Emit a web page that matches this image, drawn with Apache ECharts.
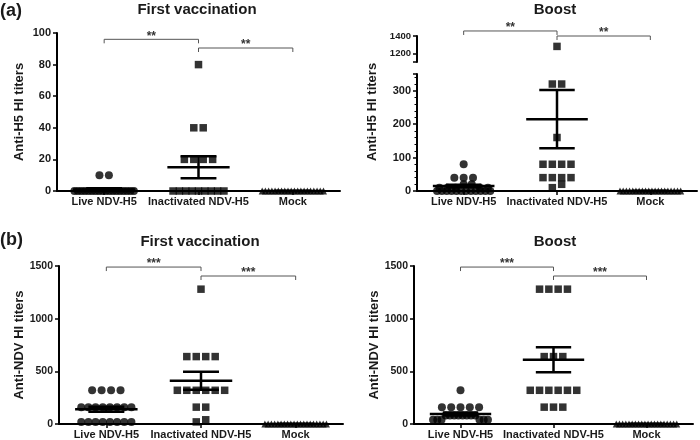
<!DOCTYPE html>
<html>
<head>
<meta charset="utf-8">
<script src="https://cdn.jsdelivr.net/npm/echarts@6/dist/echarts.min.js"></script>
<style>
  html, body { margin: 0; padding: 0; background: #fff; }
  #chart { width: 700px; height: 440px; }
</style>
</head>
<body>
<div id="chart"></div>
<script>
const groups = ['Live NDV-H5', 'Inactivated NDV-H5', 'Mock'];

// HI titers per bird
const h5FirstLive  = [10, 10, 0, 0, 0, 0, 0, 0, 0, 0, 0, 0, 0, 0, 0, 0, 0, 0, 0, 0];
const h5FirstInact = [80, 40, 40, 20, 20, 20, 20, 0, 0, 0, 0, 0, 0, 0, 0, 0];
const h5FirstMock  = [0, 0, 0, 0, 0, 0, 0, 0, 0, 0, 0, 0, 0, 0, 0, 0, 0, 0, 0, 0];

const h5BoostLive  = [80, 40, 40, 40, 20, 20, 10, 10, 10, 10, 10, 0, 0, 0, 0, 0, 0, 0, 0, 0, 0, 0, 0];
const h5BoostInact = [1280, 320, 320, 160, 80, 80, 80, 80, 40, 40, 40, 40, 20, 10];
const h5BoostMock  = [0, 0, 0, 0, 0, 0, 0, 0, 0, 0, 0, 0, 0, 0, 0, 0, 0, 0, 0, 0];

const ndvFirstLive  = [320, 320, 320, 320, 160, 160, 160, 160, 160, 160, 160, 160, 20, 20, 20, 20, 20, 20, 20, 20];
const ndvFirstInact = [1280, 640, 640, 640, 640, 320, 320, 320, 320, 320, 320, 160, 160, 40, 20];
const ndvFirstMock  = [0, 0, 0, 0, 0, 0, 0, 0, 0, 0, 0, 0, 0, 0, 0, 0, 0, 0, 0, 0];

const ndvBoostLive  = [320, 160, 160, 160, 160, 160, 80, 80, 80, 80, 80, 80, 80, 80, 40, 40, 40, 40, 40, 40];
const ndvBoostInact = [1280, 1280, 1280, 1280, 640, 640, 640, 320, 320, 320, 320, 320, 320, 160, 160, 160];
const ndvBoostMock  = [0, 0, 0, 0, 0, 0, 0, 0, 0, 0, 0, 0, 0, 0, 0, 0, 0, 0, 0, 0];

// mean and SEM bars as drawn
const h5FirstMean  = [1, 15, 0];
const h5FirstSem   = [0.7, 7, 0];
const h5BoostMean  = [15, 215, 0];
const h5BoostSem   = [4, 87, 0];
const ndvFirstMean = [140, 411, 0];
const ndvFirstSem  = [23, 86, 0];
const ndvBoostMean = [95, 610, 0];
const ndvBoostSem  = [15, 118, 0];

// significance brackets: from group, to group, height, label
const h5FirstBrackets  = [[1, 2, 96, '**'], [2, 3, 90.5, '**']];
const h5BoostBrackets  = [[1, 2, 1458, '**'], [2, 3, 1400, '**']];
const ndvFirstBrackets = [[1, 2, 1490, '***'], [2, 3, 1405, '***']];
const ndvBoostBrackets = [[1, 2, 1490, '***'], [2, 3, 1405, '***']];

// tick values
const h5FirstTicks  = [0, 20, 40, 60, 80, 100];
const h5LowTicks    = [0, 100, 200, 300];
const h5LowMinor    = [20, 40, 60, 80, 120, 140, 160, 180, 220, 240, 260, 280, 320, 340];
const h5HighTicks   = [1200, 1400];
const ndvTicks      = [0, 500, 1000, 1500];

const FONT = '"Liberation Sans", Arial, sans-serif';
const INK = '#1a1a1a';
const shapes = ['circle', 'rect', 'triangle'];
const sizes = [8, 7.5, 7];

// grids: a-first, a-boost lower, a-boost upper, b-first, b-boost
const grids = [
  { left: 57, top: 33, width: 283, height: 158 },
  { left: 417, top: 74, width: 280, height: 117 },
  { left: 417, top: 36, width: 280, height: 26 },
  { left: 59, top: 266, width: 284, height: 158 },
  { left: 414, top: 266, width: 279, height: 158 }
];

// spread equal / close values side by side like a column scatter
function swarm(values, g, unitsPerPx) {
  const rowH = 6 * unitsPerPx;
  const sorted = values.slice().sort((a, b) => b - a);
  const bins = [];
  sorted.forEach(v => {
    const last = bins[bins.length - 1];
    if (last && last[0] - v < rowH) last.push(v);
    else bins.push([v]);
  });
  const pts = [];
  bins.forEach(bin => {
    const n = bin.length;
    const span = Math.min(0.1 * (n - 1), 0.45 + 0.01 * n);
    const step = n > 1 ? span / (n - 1) : 0;
    const slots = [];
    for (let i = 0; i < n; i++) slots.push(i - (n - 1) / 2);
    slots.sort((a, b) => Math.abs(a) - Math.abs(b) || b - a);
    bin.forEach((v, i) => pts.push([g + slots[i] * step, v]));
  });
  return pts;
}

function dotSeries(axis, g, pts) {
  return {
    type: 'scatter', xAxisIndex: axis, yAxisIndex: axis, data: pts,
    symbol: shapes[g - 1], symbolSize: sizes[g - 1],
    itemStyle: { color: '#000' }, silent: true, z: 4, clip: false
  };
}

function barSeries(axis, means, sems) {
  return {
    type: 'custom', xAxisIndex: axis, yAxisIndex: axis, silent: true, z: 5,
    data: means.map((m, i) => [i + 1, m, sems[i]]),
    encode: { x: 0, y: 1 },
    renderItem(params, api) {
      const x = api.value(0), m = api.value(1), s = api.value(2);
      const p = (dx, v) => api.coord([x + dx, v]);
      const st = { stroke: '#000', lineWidth: 2.5 };
      const seg = (a, b) => ({ type: 'line', shape: { x1: a[0], y1: a[1], x2: b[0], y2: b[1] }, style: st });
      return {
        type: 'group',
        children: [
          seg(p(-0.33, m), p(0.33, m)),
          seg(p(0, m - s), p(0, m + s)),
          seg(p(-0.19, m + s), p(0.19, m + s)),
          seg(p(-0.19, m - s), p(0.19, m - s))
        ]
      };
    }
  };
}

function bracketSeries(axis, brackets) {
  return {
    type: 'custom', xAxisIndex: axis, yAxisIndex: axis, silent: true, clip: false, z: 6,
    data: brackets.map(b => [b[0], b[1], b[2]]),
    encode: { x: [0, 1], y: 2 },
    renderItem(params, api) {
      const a = api.coord([api.value(0), api.value(2)]);
      const b = api.coord([api.value(1), api.value(2)]);
      return {
        type: 'group',
        children: [
          {
            type: 'polyline',
            shape: { points: [[a[0], a[1] + 4], [a[0], a[1]], [b[0], b[1]], [b[0], b[1] + 4]] },
            style: { stroke: '#555', lineWidth: 1, fill: 'none' }
          },
          {
            type: 'text', x: (a[0] + b[0]) / 2, y: a[1] - 3,
            style: {
              text: brackets[params.dataIndex][3], fill: '#333',
              font: 'bold 12px ' + FONT, textAlign: 'center', textVerticalAlign: 'middle'
            }
          }
        ]
      };
    }
  };
}

function xAxisOpt(grid, show) {
  return {
    type: 'value', gridIndex: grid, min: 0.5, max: 3.5, show: show,
    splitLine: { show: false },
    axisLine: { onZero: false, lineStyle: { color: '#000', width: 2 } },
    axisTick: { customValues: [1, 2, 3], length: 4, lineStyle: { color: '#000', width: 1.5 } },
    axisLabel: {
      customValues: [1, 2, 3], formatter: v => groups[Math.round(v) - 1],
      margin: 5, color: INK, fontFamily: FONT, fontWeight: 'bold', fontSize: 11
    }
  };
}

function yAxisOpt(grid, min, max, labels, ticks, fontSize, name, extra) {
  return Object.assign({
    type: 'value', gridIndex: grid, min: min, max: max, position: 'left',
    splitLine: { show: false },
    axisLine: { show: true, lineStyle: { color: '#000', width: 2 } },
    axisTick: { show: true, customValues: ticks, length: 4, lineStyle: { color: '#000', width: 1.5 } },
    axisLabel: {
      customValues: labels, formatter: v => String(v), margin: 6,
      color: INK, fontFamily: FONT, fontWeight: 'bold', fontSize: fontSize
    },
    name: name, nameLocation: 'middle', nameGap: 31,
    nameTextStyle: { color: INK, fontFamily: FONT, fontWeight: 'bold', fontSize: 13 }
  }, extra || {});
}

const upl = (lo, hi, g) => (hi - lo) / grids[g].height;

const series = [];
[[h5FirstLive, 1], [h5FirstInact, 2], [h5FirstMock, 3]].forEach(([vals, g]) =>
  series.push(dotSeries(0, g, swarm(vals, g, upl(0, 100, 0)))));
[[h5BoostLive, 1], [h5BoostInact, 2], [h5BoostMock, 3]].forEach(([vals, g]) => {
  const pts = swarm(vals, g, upl(0, 350, 1));
  const low = pts.filter(p => p[1] < 1100), high = pts.filter(p => p[1] >= 1100);
  if (low.length) series.push(dotSeries(1, g, low));
  if (high.length) series.push(dotSeries(2, g, high));
});
[[ndvFirstLive, 1], [ndvFirstInact, 2], [ndvFirstMock, 3]].forEach(([vals, g]) =>
  series.push(dotSeries(3, g, swarm(vals, g, upl(0, 1500, 3)))));
[[ndvBoostLive, 1], [ndvBoostInact, 2], [ndvBoostMock, 3]].forEach(([vals, g]) =>
  series.push(dotSeries(4, g, swarm(vals, g, upl(0, 1500, 4)))));

series.push(barSeries(0, h5FirstMean, h5FirstSem));
series.push(barSeries(1, h5BoostMean, h5BoostSem));
series.push(barSeries(3, ndvFirstMean, ndvFirstSem));
series.push(barSeries(4, ndvBoostMean, ndvBoostSem));

series.push(bracketSeries(0, h5FirstBrackets));
series.push(bracketSeries(2, h5BoostBrackets));
series.push(bracketSeries(3, ndvFirstBrackets));
series.push(bracketSeries(4, ndvBoostBrackets));

const txt = (text, x, y, size, align, rot) => ({
  type: 'text', x: x, y: y, rotation: rot || 0, silent: true,
  style: { text: text, fill: INK, font: 'bold ' + size + 'px ' + FONT, textAlign: align, textVerticalAlign: 'middle' }
});

const option = {
  backgroundColor: '#fff',
  animation: false,
  grid: grids,
  xAxis: [xAxisOpt(0, true), xAxisOpt(1, true), xAxisOpt(2, false), xAxisOpt(3, true), xAxisOpt(4, true)],
  yAxis: [
    yAxisOpt(0, 0, 100, h5FirstTicks, h5FirstTicks, 11, 'Anti-H5 HI titers'),
    yAxisOpt(1, 0, 350, h5LowTicks, h5LowTicks.concat([350]), 11, ''),
    yAxisOpt(2, 1100, 1400, h5HighTicks, [1100].concat(h5HighTicks), 9.5, ''),
    yAxisOpt(3, 0, 1500, ndvTicks, ndvTicks, 10.5, 'Anti-NDV HI titers', { nameGap: 30 }),
    yAxisOpt(4, 0, 1500, ndvTicks, ndvTicks, 10.5, 'Anti-NDV HI titers', { nameGap: 30 }),
    // minor ticks of the broken axis, lower part
    {
      type: 'value', gridIndex: 1, min: 0, max: 350, position: 'left', offset: 0,
      splitLine: { show: false }, axisLine: { show: false }, axisLabel: { show: false },
      axisTick: { show: true, customValues: h5LowMinor, length: 2.5, lineStyle: { color: '#000', width: 1 } }
    }
  ],
  graphic: [
    txt('(a)', 0, 11, 18, 'left'),
    txt('(b)', 0, 240, 18, 'left'),
    txt('First vaccination', 197, 10, 15, 'center'),
    txt('Boost', 555, 10, 15, 'center'),
    txt('First vaccination', 200, 242, 15, 'center'),
    txt('Boost', 555, 242, 15, 'center'),
    txt('Anti-H5 HI titers', 372, 112, 13, 'center', Math.PI / 2)
  ],
  series: series
};

const chart = echarts.init(document.getElementById('chart'), null, { renderer: 'canvas' });
chart.setOption(option);
</script>
</body>
</html>
